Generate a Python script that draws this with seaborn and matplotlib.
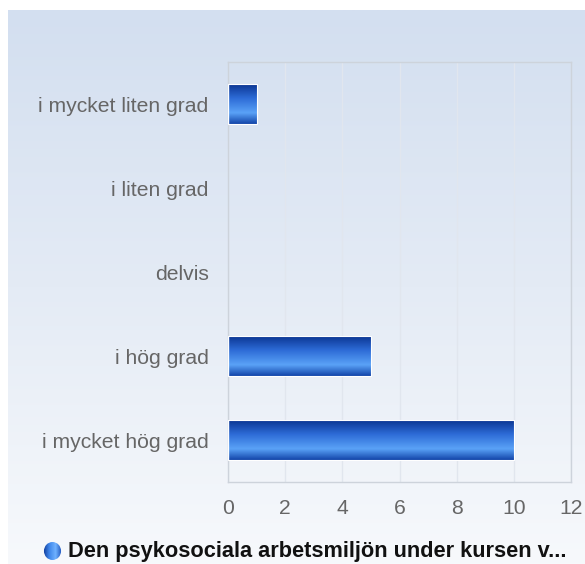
import numpy as np
import pandas as pd
import matplotlib
matplotlib.use("Agg")
import matplotlib.pyplot as plt
from matplotlib.colors import LinearSegmentedColormap
import seaborn as sns

# Survey answers and response counts
categories = ["i mycket liten grad", "i liten grad", "delvis", "i hög grad", "i mycket hög grad"]
counts = [1, 0, 0, 5, 10]
x_ticks = [0, 2, 4, 6, 8, 10, 12]
series_name = "Den psykosociala arbetsmiljön under kursen v..."

sns.set_theme(style="white")
plt.rcParams["font.family"] = ["Liberation Sans", "DejaVu Sans"]

W, H, DPI = 585, 564, 100
fig = plt.figure(figsize=(W / DPI, H / DPI), dpi=DPI)
fig.patch.set_facecolor("white")

# Background panel with a soft vertical gradient
bg = fig.add_axes([8 / W, 0, 1 - 8 / W, 1 - 10 / H])
bg.set_axis_off()
bg_cmap = LinearSegmentedColormap.from_list("bg", ["#d3dff0", "#e4ebf5", "#f7f9fc"])
grad = np.linspace(0, 1, 256).reshape(-1, 1)
bg.imshow(grad, aspect="auto", cmap=bg_cmap, extent=[0, 1, 0, 1], origin="upper")
bg.set_xlim(0, 1)
bg.set_ylim(0, 1)

# Plot area
left, right, top, bottom = 228, 571, 62, 482
ax = fig.add_axes([left / W, 1 - bottom / H, (right - left) / W, (bottom - top) / H])
ax.patch.set_alpha(0)

df = pd.DataFrame({"answer": categories, "count": counts})
sns.barplot(data=df, x="count", y="answer", orient="h", width=0.47,
            color="#2a64c8", ax=ax, zorder=3)

# Glossy blue gradient across each bar
bar_cmap = LinearSegmentedColormap.from_list(
    "bar", [(0.0, "#0b3592"), (0.35, "#2d6bd6"), (0.72, "#5aa2f7"), (1.0, "#1244a8")])
for patch in ax.patches:
    w = patch.get_width()
    if w <= 0:
        patch.set_visible(False)
        continue
    x0, y0 = patch.get_x(), patch.get_y()
    h = patch.get_height()
    patch.set_facecolor("none")
    patch.set_edgecolor("white")
    patch.set_linewidth(0.8)
    img = ax.imshow(grad, aspect="auto", cmap=bar_cmap,
                    extent=[x0, x0 + w, y0 + h, y0], origin="upper", zorder=2.5)
    img.set_clip_path(patch)

ax.set_xlim(0, 12)
ax.set_ylim(len(categories) - 0.5, -0.5)
ax.set_xticks(x_ticks)
ax.set_xticklabels([str(t) for t in x_ticks])
ax.set_xlabel("")
ax.set_ylabel("")
ax.grid(axis="x", color="#e1e6ee", linewidth=1, zorder=0)
ax.grid(axis="y", visible=False)
for s in ax.spines.values():
    s.set_visible(True)
    s.set_color("#cdd3db")
    s.set_linewidth(1)
ax.tick_params(axis="both", length=0, labelsize=15.2, labelcolor="#666666")
ax.tick_params(axis="y", pad=14)
ax.tick_params(axis="x", pad=12)

# Legend entry below the chart
leg_y = 1 - 551 / H
dot = fig.add_axes([43 / W, 1 - 561 / H, 19 / W, 20 / H])
dot.set_axis_off()
dot.patch.set_alpha(0)
dot.set_xlim(-1, 1)
dot.set_ylim(-1, 1)
circ = plt.Circle((0, 0), 0.9, transform=dot.transData, facecolor="none", edgecolor="none")
dot.add_patch(circ)
hgrad = np.linspace(0, 1, 256).reshape(1, -1)
dot_cmap = LinearSegmentedColormap.from_list("dot", ["#0b3592", "#3f86ea", "#6fb2ff", "#1a4fb8"])
im = dot.imshow(hgrad, aspect="auto", cmap=dot_cmap, extent=[-1, 1, -1, 1])
im.set_clip_path(circ)
fig.text(68 / W, leg_y, series_name, ha="left", va="center",
         fontsize=15.7, fontweight="bold", color="#111111")

fig.savefig("out.png", dpi=DPI)
